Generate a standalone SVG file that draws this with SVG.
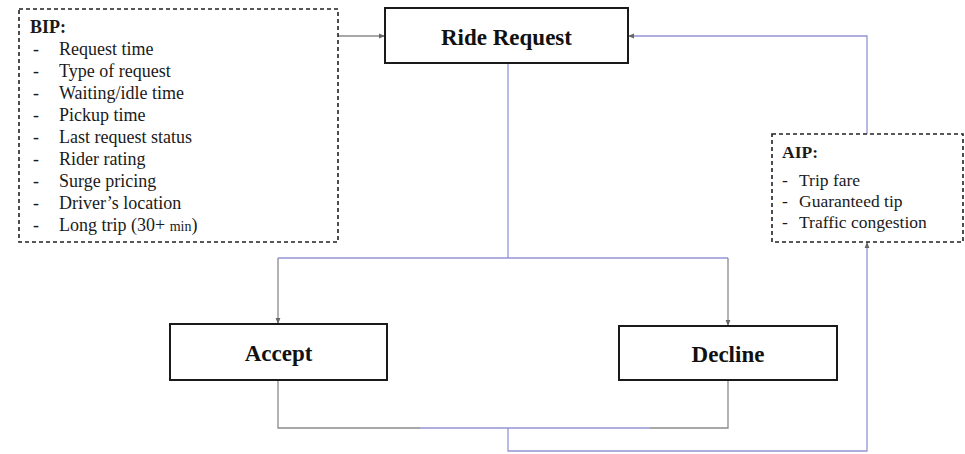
<svg xmlns="http://www.w3.org/2000/svg" width="965" height="454" viewBox="0 0 965 454">
<style>
text{font-family:"Liberation Serif","Times New Roman",serif;fill:#1a1a1a}
.box{fill:#fff;stroke:#1a1a1a;stroke-width:2}
.dbox{fill:#fff;stroke:#222;stroke-width:1.6;stroke-dasharray:4 3}
.title{font-weight:bold;font-size:23px;fill:#111;text-anchor:middle}
.t text,.t{font-size:18px}
.ta text,.ta{font-size:17.5px}
.b{font-weight:bold}
.c{fill:none;stroke:#9494d4;stroke-width:1.3}
.g{fill:none;stroke:#8a8a8a;stroke-width:1.3}
</style>
<defs>
<marker id="ah" viewBox="0 0 10 10" refX="10" refY="5" markerWidth="6" markerHeight="6" orient="auto" markerUnits="userSpaceOnUse">
<path d="M0,1 L10,5 L0,9 z" fill="#666"/>
</marker>
</defs>
<rect width="965" height="454" fill="#fff"/>
<g id="connectors">
<path class="g" d="M338,36 H385" marker-end="url(#ah)"/>
<path class="c" d="M867,134 V36 H628" marker-end="url(#ah)"/>
<path class="c" d="M508,63 V258"/>
<path class="c" d="M278,258 H728"/>
<path class="g" d="M278,258 V324" marker-end="url(#ah)"/>
<path class="g" d="M728,258 V326" marker-end="url(#ah)"/>
<path class="g" d="M278,380 V428 H420"/>
<path class="c" d="M420,428 H650"/>
<path class="g" d="M650,428 H728 V380"/>
<path class="c" d="M508,428 V451 H867 V242" marker-end="url(#ah)"/>
</g>
<g id="bip">
<rect class="dbox" x="19" y="9" width="319" height="233"/>
<text class="t b" x="30" y="33">BIP:</text>
<g class="t">
<text x="33" y="55">-</text><text x="59" y="55">Request time</text>
<text x="33" y="77">-</text><text x="59" y="77">Type of request</text>
<text x="33" y="99">-</text><text x="59" y="99">Waiting/idle time</text>
<text x="33" y="121">-</text><text x="59" y="121">Pickup time</text>
<text x="33" y="143">-</text><text x="59" y="143">Last request status</text>
<text x="33" y="165">-</text><text x="59" y="165">Rider rating</text>
<text x="33" y="187">-</text><text x="59" y="187">Surge pricing</text>
<text x="33" y="209">-</text><text x="59" y="209">Driver’s location</text>
<text x="33" y="231">-</text><text x="59" y="231">Long trip (30+ <tspan font-size="14px">min</tspan>)</text>
</g>
</g>
<g id="ride-request">
<rect class="box" x="385" y="8" width="243" height="55"/>
<text class="title" x="506.5" y="45">Ride Request</text>
</g>
<g id="aip">
<rect class="dbox" x="772" y="134" width="191" height="108"/>
<text class="ta b" x="782" y="158">AIP:</text>
<g class="ta">
<text x="782" y="186">-</text><text x="799" y="186">Trip fare</text>
<text x="782" y="207">-</text><text x="799" y="207">Guaranteed tip</text>
<text x="782" y="228">-</text><text x="799" y="228">Traffic congestion</text>
</g>
</g>
<g id="accept">
<rect class="box" x="170" y="324" width="217" height="56"/>
<text class="title" x="278.5" y="361">Accept</text>
</g>
<g id="decline">
<rect class="box" x="619" y="326" width="218" height="54"/>
<text class="title" x="728" y="362">Decline</text>
</g>
</svg>
